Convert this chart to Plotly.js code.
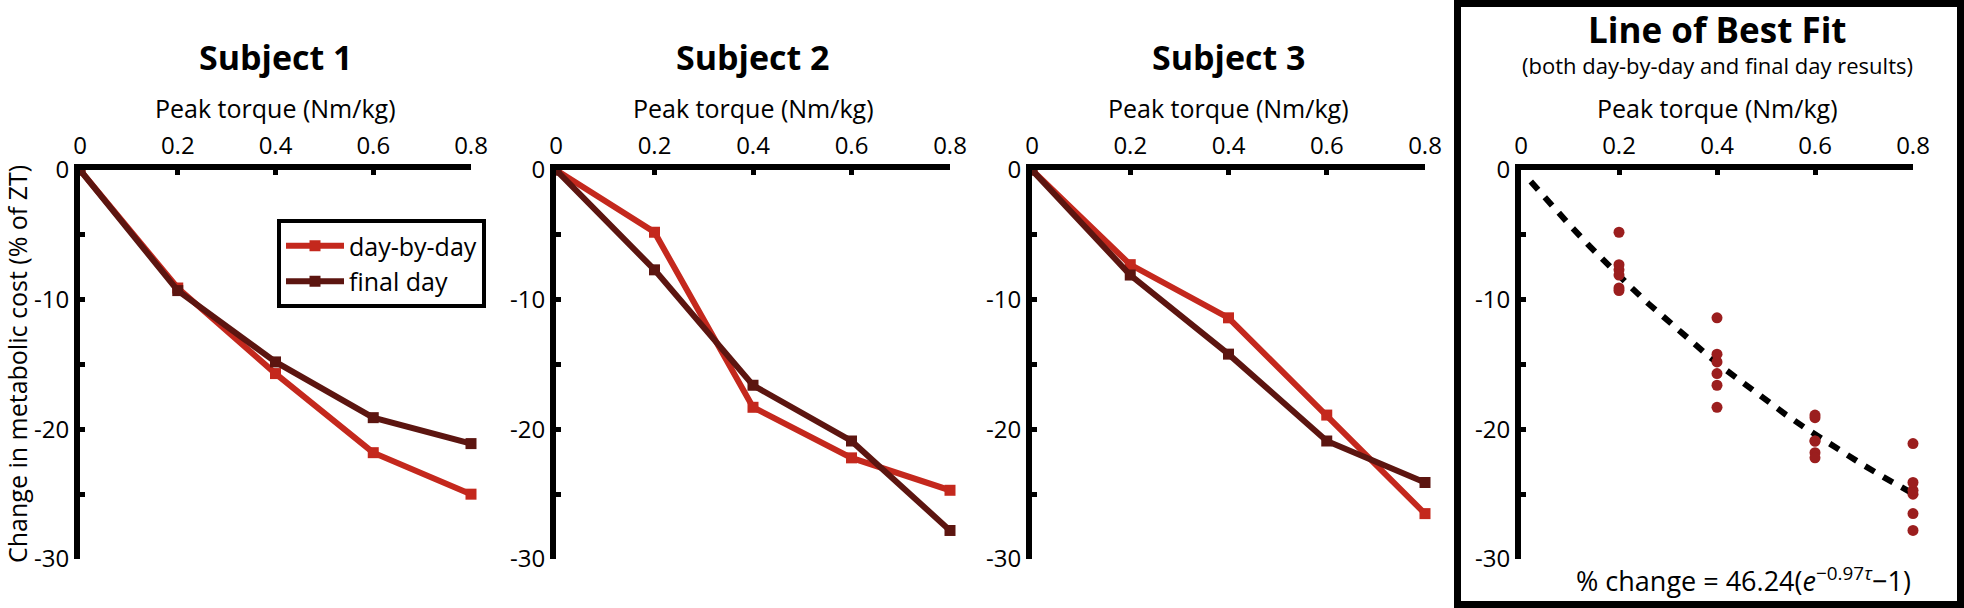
<!DOCTYPE html>
<html>
<head>
<meta charset="utf-8">
<script src="https://cdn.plot.ly/plotly-3.0.1.min.js"></script>
<style>html,body{margin:0;padding:0;background:#fff;} #chart{width:1964px;height:608px;}</style>
</head>
<body>
<div id="chart"></div>
<script>
// ---- data ----
var torque = [0, 0.2, 0.4, 0.6, 0.8];
var s1Day   = [0, -9.1, -15.7, -21.8, -25.0];
var s1Final = [0, -9.3, -14.8, -19.1, -21.1];
var s2Day   = [0, -4.8, -18.3, -22.2, -24.7];
var s2Final = [0, -7.7, -16.6, -20.9, -27.8];
var s3Day   = [0, -7.3, -11.4, -18.9, -26.5];
var s3Final = [0, -8.1, -14.2, -20.9, -24.1];
var subjectTitles = ["Subject 1", "Subject 2", "Subject 3"];
var xTickVals = [0, 0.2, 0.4, 0.6, 0.8];
var xTickText = ["0", "0.2", "0.4", "0.6", "0.8"];
var yTickVals = [0, -10, -20, -30];
var yTickText = ["0", "-10", "-20", "-30"];
var yMinorVals = [-5, -15, -25];
// fit shown in the chart: % change = 46.24 (e^(-0.97 tau) - 1)
var fitA = 46.24, fitK = 0.97;
var fitX = [0.02,0.06,0.10,0.14,0.18,0.22,0.26,0.30,0.34,0.38,0.42,0.46,0.50,0.54,0.58,0.62,0.66,0.70,0.74,0.78,0.80];

// ---- styling ----
var W = 1964, H = 608;
var RED = "#C4281D", DARK = "#5C1510", DOT = "#9B1E1E";
var FONT = "Open Sans, Noto Sans, sans-serif";
var plotX = [[80, 471], [556, 950], [1032, 1425], [1521, 1913]];
var plotTop = 170, plotBottom = 559;

function px(x) { return x / W; }
function py(y) { return 1 - y / H; }

var series = [[s1Day, s1Final], [s2Day, s2Final], [s3Day, s3Final]];
var traces = [];
series.forEach(function (pair, i) {
  var ax = i === 0 ? "" : String(i + 1);
  traces.push({
    x: torque, y: pair[0], xaxis: "x" + ax, yaxis: "y" + ax,
    mode: "lines+markers", name: "day-by-day", showlegend: i === 0, legendgroup: "d",
    line: {color: RED, width: 6}, marker: {symbol: "square", size: 11, color: RED},
    cliponaxis: false
  });
  traces.push({
    x: torque, y: pair[1], xaxis: "x" + ax, yaxis: "y" + ax,
    mode: "lines+markers", name: "final day", showlegend: i === 0, legendgroup: "f",
    line: {color: DARK, width: 6}, marker: {symbol: "square", size: 11, color: DARK},
    cliponaxis: false
  });
});

// scatter of all results (both day-by-day and final day) at nonzero torque
var scX = [], scY = [];
series.forEach(function (pair) {
  pair.forEach(function (arr) {
    for (var k = 0; k < torque.length; k++) {
      if (torque[k] > 0) { scX.push(torque[k]); scY.push(arr[k]); }
    }
  });
});
var fitY = fitX.map(function (t) { return fitA * (Math.exp(-fitK * t) - 1); });
traces.push({
  x: fitX, y: fitY, xaxis: "x4", yaxis: "y4", mode: "lines", showlegend: false,
  line: {color: "#000", width: 6, dash: "11px,10px"}, cliponaxis: false
});
traces.push({
  x: scX, y: scY, xaxis: "x4", yaxis: "y4", mode: "markers", showlegend: false,
  marker: {symbol: "circle", size: 11, color: DOT}, cliponaxis: false
});

var layout = {
  width: W, height: H,
  margin: {l: 0, r: 0, t: 0, b: 0},
  paper_bgcolor: "#fff", plot_bgcolor: "rgba(0,0,0,0)",
  font: {family: FONT, color: "#000", size: 24},
  showlegend: true,
  legend: {
    x: px(277), y: py(219), xanchor: "left", yanchor: "top",
    bordercolor: "#000", borderwidth: 4, bgcolor: "#fff",
    font: {family: FONT, size: 25, color: "#000"},
    itemwidth: 58, tracegroupgap: 0
  },
  annotations: [],
  shapes: [{
    type: "rect", xref: "paper", yref: "paper",
    x0: px(1457.5), x1: px(1960.5), y0: py(604.5), y1: py(3.5),
    line: {color: "#000", width: 7}, fillcolor: "rgba(0,0,0,0)"
  }]
};

for (var i = 0; i < 4; i++) {
  var sfx = i === 0 ? "" : String(i + 1);
  layout["xaxis" + sfx] = {
    domain: [px(plotX[i][0]), px(plotX[i][1])],
    anchor: "y" + sfx, side: "top", range: [0, 0.8],
    showline: true, linecolor: "#000", linewidth: 6,
    ticks: "inside", ticklen: 5, tickwidth: 5, tickcolor: "#000",
    tickvals: xTickVals, ticktext: xTickText,
    tickfont: {family: FONT, size: 24, color: "#000"},
    showgrid: false, zeroline: false, fixedrange: true
  };
  layout["yaxis" + sfx] = {
    domain: [py(plotBottom), py(plotTop)],
    anchor: "x" + sfx, range: [-30, 0],
    showline: true, linecolor: "#000", linewidth: 6,
    ticks: "inside", ticklen: 5, tickwidth: 5, tickcolor: "#000",
    tickvals: yTickVals, ticktext: yTickText,
    minor: {tickvals: yMinorVals, ticks: "inside", ticklen: 5, tickwidth: 5, tickcolor: "#000", showgrid: false},
    tickfont: {family: FONT, size: 24, color: "#000"},
    showgrid: false, zeroline: false, fixedrange: true
  };
  var cx = px((plotX[i][0] + plotX[i][1]) / 2);
  layout.annotations.push({
    xref: "paper", yref: "paper", x: cx, y: py(i < 3 ? 57 : 29),
    xanchor: "center", yanchor: "middle", showarrow: false,
    text: "<b>" + (i < 3 ? subjectTitles[i] : "Line of Best Fit") + "</b>",
    font: {family: FONT, size: i < 3 ? 34 : 35, color: "#000"}
  });
  layout.annotations.push({
    xref: "paper", yref: "paper", x: cx, y: py(108),
    xanchor: "center", yanchor: "middle", showarrow: false,
    text: "Peak torque (Nm/kg)",
    font: {family: FONT, size: 25, color: "#000"}
  });
}
layout.annotations.push({
  xref: "paper", yref: "paper", x: px(1717), y: py(65),
  xanchor: "center", yanchor: "middle", showarrow: false,
  text: "(both day-by-day and final day results)",
  font: {family: FONT, size: 22, color: "#000"}
});
layout.annotations.push({
  xref: "paper", yref: "paper", x: px(17), y: py(364),
  xanchor: "center", yanchor: "middle", showarrow: false, textangle: -90,
  text: "Change in metabolic cost (% of ZT)",
  font: {family: FONT, size: 25, color: "#000"}
});
layout.annotations.push({
  xref: "paper", yref: "paper", x: px(1743), y: py(579),
  xanchor: "center", yanchor: "middle", showarrow: false,
  text: "% change = 46.24(<i>e</i><sup>\u22120.97<i>\u03C4</i></sup>\u22121)",
  font: {family: FONT, size: 27, color: "#000"}
});

Plotly.newPlot("chart", traces, layout, {displayModeBar: false, staticPlot: true});
</script>
</body>
</html>
